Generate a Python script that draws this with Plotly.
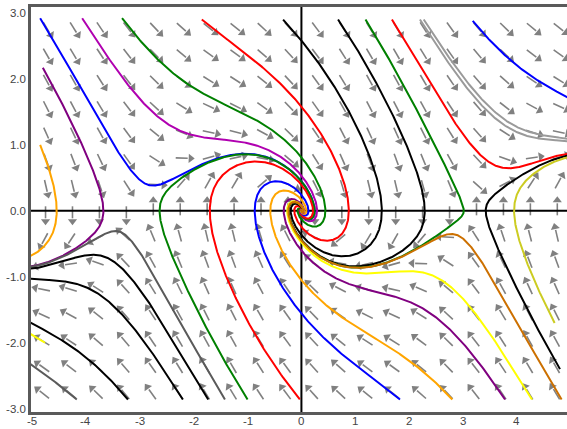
import numpy as np
import plotly.graph_objects as go

# ---- data: damped pendulum  x' = y,  y' = -sin(x) - c*y ----
DAMPING = 1.0

# trajectory start points and colours
start_x = [-4.85, -4.80, -4.07, -3.33, -1.85, -0.34, 0.68, 1.19, 1.68, 2.20, 2.27, 3.18,
           -4.85, -1.00, -0.03, 1.83, 2.80, 3.78, 4.28, 4.83, 4.80, 4.70,
           -1.42, -1.73, -2.20, -3.22, -4.17, -4.76]
start_y = [2.92, 2.17, 2.92, 2.92, 2.90, 2.90, 2.90, 2.90, 2.90, 2.90, 2.90, 2.88,
           1.00, -2.86, -2.86, -2.86, -2.86, -2.86, -2.86, -2.86, -2.40, -1.70,
           -2.86, -2.86, -2.86, -2.86, -2.86, -2.00]
colors = ["#0000ff", "#800080", "#b000b0", "#008000", "#ff0000", "#000000", "#000000",
          "#008000", "#ff0000", "#9a9a9a", "#9a9a9a", "#0000ff",
          "#ffa500", "#008000", "#ff0000", "#0000ff", "#ffa500", "#800080", "#ffff00",
          "#cc7000", "#000000", "#cccc22",
          "#5a5a5a", "#000000", "#000000", "#000000", "#5a5a5a", "#ffff00"]

# vector-field grid
grid_x = [-4.75 + 0.5 * k for k in range(20)]
grid_y = [-2.8 + 0.4 * k for k in range(15)]

x_ticks = [-5, -4, -3, -2, -1, 0, 1, 2, 3, 4]
x_ticktext = ["-5", "-4", "-3", "-2", "-1", "0", "1", "2", "3", "4"]
y_ticks = [-3, -2, -1, 0, 1, 2, 3]
y_ticktext = ["-3.0", "-2.0", "-1.0", "0.0", "1.0", "2.0", "3.0"]

XR = [-5.02, 4.93]
YR = [-3.05, 3.09]
W, H = 567, 429
ML, MR, MT, MB = 31, 0, 7, 17
SX = (W - ML - MR) / (XR[1] - XR[0])
SY = (H - MT - MB) / (YR[1] - YR[0])
LABEL_COLOR = "#444444"
FONT = "Liberation Sans, Arial, sans-serif"


def field(x, y):
    return y, -np.sin(x) - DAMPING * y


def integrate(x0, y0, dt=0.01, nmax=8000):
    xs, ys = [x0], [y0]
    x, y = x0, y0
    for _ in range(nmax):
        k1 = field(x, y)
        k2 = field(x + dt / 2 * k1[0], y + dt / 2 * k1[1])
        k3 = field(x + dt / 2 * k2[0], y + dt / 2 * k2[1])
        k4 = field(x + dt * k3[0], y + dt * k3[1])
        x += dt / 6 * (k1[0] + 2 * k2[0] + 2 * k3[0] + k4[0])
        y += dt / 6 * (k1[1] + 2 * k2[1] + 2 * k3[1] + k4[1])
        xs.append(x)
        ys.append(y)
        if x < XR[0] - 0.1 or x > XR[1] + 0.1 or y < YR[0] - 0.1 or y > YR[1] + 0.1:
            break
        if x * x + y * y < 1e-6:
            break
    return xs, ys


fig = go.Figure()

# ---- arrows ----
L = 18.0      # arrow length, px
HEAD = 6.0    # head length, px
shaft_x, shaft_y, head_x, head_y, head_ang = [], [], [], [], []
for gx in grid_x:
    for gy in grid_y:
        u, v = field(gx, gy)
        ex, ey = u * SX, -v * SY
        n = np.hypot(ex, ey)
        ex, ey = ex / n, ey / n
        tx, ty = gx - 0.25 * L * ex / SX, gy + 0.25 * L * ey / SY
        sx_end, sy_end = tx + (L - HEAD) * ex / SX, ty - (L - HEAD) * ey / SY
        shaft_x += [tx, sx_end, None]
        shaft_y += [ty, sy_end, None]
        head_x.append(tx + (L - HEAD / 2) * ex / SX)
        head_y.append(ty - (L - HEAD / 2) * ey / SY)
        head_ang.append(float(np.degrees(np.arctan2(ex, -ey))))

fig.add_trace(go.Scatter(x=shaft_x, y=shaft_y, mode="lines",
                         line=dict(color="#808080", width=1.6), hoverinfo="skip"))
fig.add_trace(go.Scatter(x=head_x, y=head_y, mode="markers",
                         marker=dict(symbol="triangle-up", size=8, color="#808080",
                                     angle=head_ang, line=dict(width=0)),
                         hoverinfo="skip"))

# ---- coordinate axes ----
fig.add_trace(go.Scatter(x=[XR[0], XR[1], None, 0, 0], y=[0, 0, None, YR[0], YR[1]],
                         mode="lines", line=dict(color="black", width=2), hoverinfo="skip"))

# ---- trajectories ----
for x0, y0, c in zip(start_x, start_y, colors):
    xs, ys = integrate(x0, y0)
    fig.add_trace(go.Scatter(x=xs, y=ys, mode="lines",
                             line=dict(color=c, width=2), hoverinfo="skip"))

# x tick labels as annotations (placed tight under the frame, as in the reference)
for v, t in zip(x_ticks, x_ticktext):
    fig.add_annotation(x=v, xref="x", y=0, yref="paper", yanchor="middle", yshift=-9,
                       text=t, showarrow=False, borderpad=0,
                       font=dict(family=FONT, size=11.5, color=LABEL_COLOR))

fig.update_layout(
    width=W, height=H, showlegend=False,
    margin=dict(l=ML, r=MR, t=MT, b=MB, pad=0, autoexpand=False),
    plot_bgcolor="white", paper_bgcolor="white",
    font=dict(family=FONT, size=11.5, color=LABEL_COLOR),
)
fig.update_xaxes(range=XR, tickvals=x_ticks, showticklabels=False, showgrid=False,
                 zeroline=False, showline=True, linecolor="#5a5a5a", linewidth=2.5,
                 mirror=True, ticks="", fixedrange=True, automargin=False)
fig.update_yaxes(range=YR, tickvals=y_ticks, ticktext=y_ticktext, showgrid=False,
                 zeroline=False, showline=True, linecolor="#5a5a5a", linewidth=2.5,
                 ticks="", fixedrange=True, automargin=False, ticklabelstandoff=0)

fig.write_html("out.html", config={"displayModeBar": False},
               post_script="document.body.style.margin='0';document.body.style.overflow='hidden';")
